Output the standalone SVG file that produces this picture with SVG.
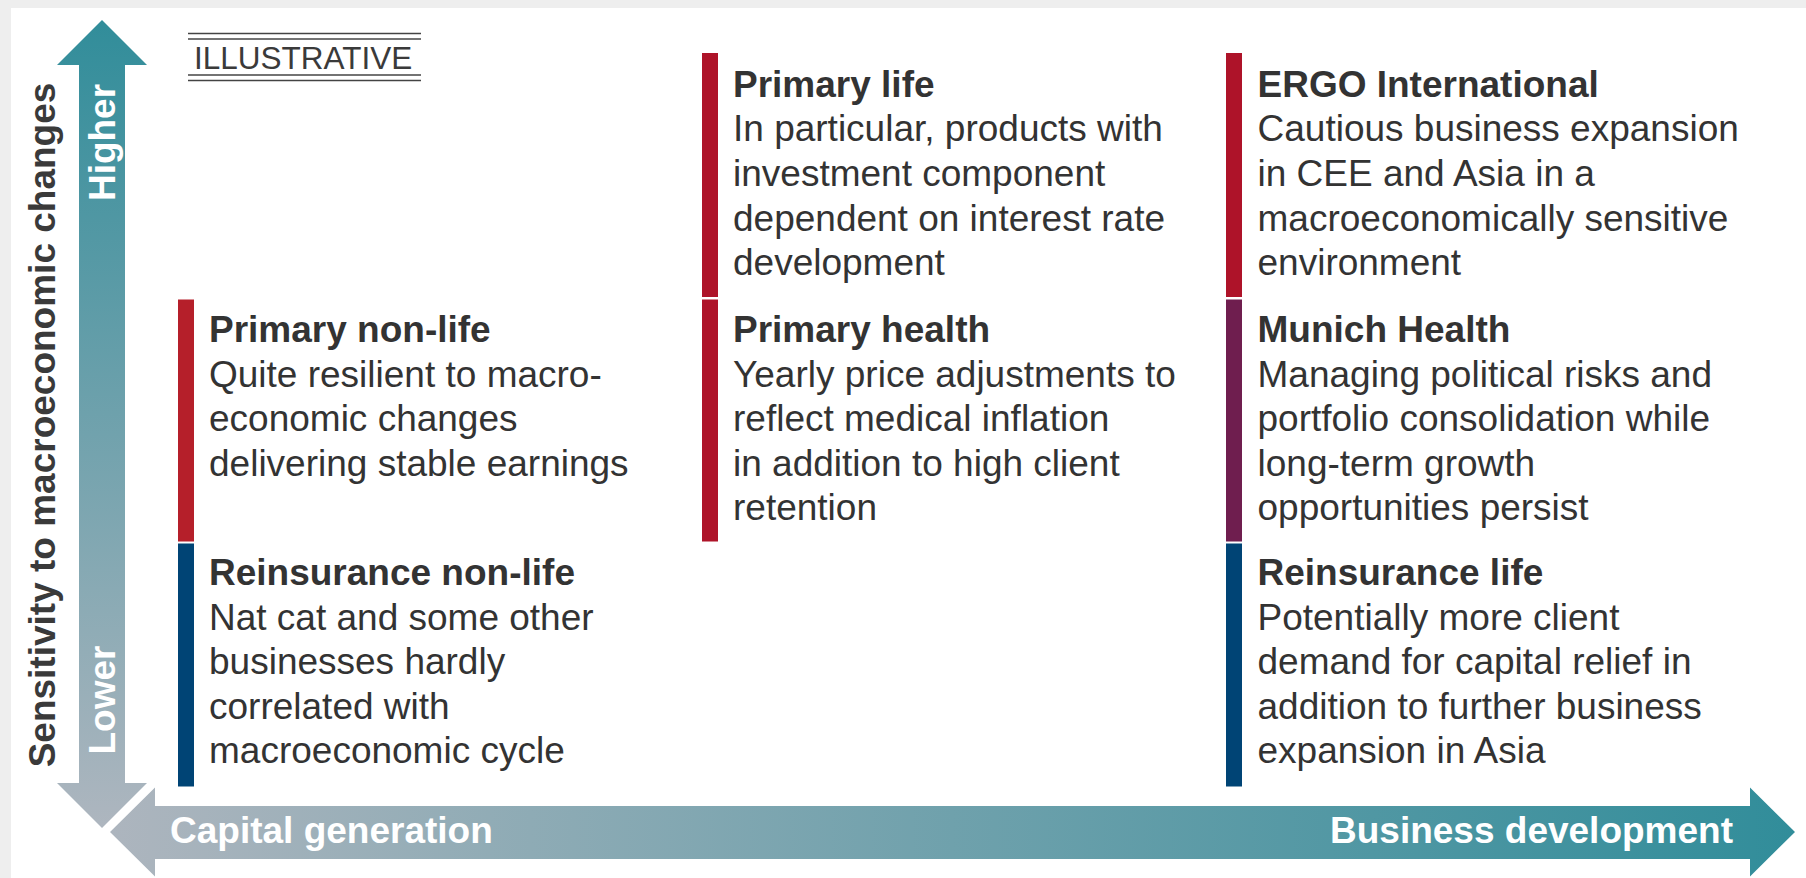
<svg xmlns="http://www.w3.org/2000/svg" width="1806" height="878" viewBox="0 0 1806 878">
  <defs>
    <linearGradient id="gradV" gradientUnits="userSpaceOnUse" x1="0" y1="20" x2="0" y2="828">
      <stop offset="0" stop-color="#318d9a"/>
      <stop offset="1" stop-color="#aeb6bf"/>
    </linearGradient>
    <linearGradient id="gradH" gradientUnits="userSpaceOnUse" x1="110" y1="0" x2="1795" y2="0">
      <stop offset="0" stop-color="#adb5be"/>
      <stop offset="1" stop-color="#318d9a"/>
    </linearGradient>
    <style>
      .txt { font-family: "Liberation Sans", Arial, sans-serif; font-size: 37px; fill: #333333; }
      .hd { font-weight: bold; }
      .axis-lbl { font-family: "Liberation Sans", Arial, sans-serif; font-size: 37px; font-weight: bold; fill: #ffffff; }
      .axis-title { font-family: "Liberation Sans", Arial, sans-serif; font-size: 37px; font-weight: bold; fill: #3a3a3a; }
      .red { fill: #ae1329; }
      .red2 { fill: #b51f2a; }
      .purple { fill: #6f1e4f; }
      .blue { fill: #004475; }
      .rule { stroke: #444444; stroke-width: 1.7; }
    </style>
  </defs>

  <!-- page -->
  <rect x="0" y="0" width="1806" height="878" fill="#eeeeee"/>
  <rect x="11" y="8" width="1795" height="870" fill="#ffffff"/>

  <!-- axes -->
  <g id="axes">
    <!-- vertical: higher sensitivity (up) / lower (down) -->
    <polygon fill="url(#gradV)" points="102,20 147,65 125,65 125,783 147,783 102,828 57,783 79,783 79,65 57,65"/>
    <!-- horizontal: capital generation (left) / business development (right) -->
    <polygon fill="url(#gradH)" points="110,832 155,787.5 155,806 1750,806 1750,787.5 1795,832 1750,876.5 1750,859 155,859 155,876.5"/>
    <text class="axis-lbl" text-anchor="middle" transform="translate(115,142.5) rotate(-90)">Higher</text>
    <text class="axis-lbl" text-anchor="middle" transform="translate(115,700) rotate(-90)">Lower</text>
    <text class="axis-lbl" x="170" y="843">Capital generation</text>
    <text class="axis-lbl" x="1733" y="843" text-anchor="end">Business development</text>
    <text class="axis-title" text-anchor="middle" transform="translate(55,425) rotate(-90)">Sensitivity to macroeconomic changes</text>
  </g>

  <!-- stamp -->
  <g id="illustrative">
    <line class="rule" x1="188" y1="33.5" x2="421" y2="33.5"/>
    <line class="rule" x1="188" y1="39" x2="421" y2="39"/>
    <text x="194" y="69" font-family="Liberation Sans, Arial, sans-serif" font-size="31.5" fill="#3a3a3a">ILLUSTRATIVE</text>
    <line class="rule" x1="188" y1="75" x2="421" y2="75"/>
    <line class="rule" x1="188" y1="80.5" x2="421" y2="80.5"/>
  </g>

  <!-- column 1 -->
  <g id="primary-non-life">
    <rect class="red2" x="178" y="299.5" width="16" height="242"/>
    <text class="txt">
      <tspan class="hd" x="209" y="342">Primary non-life</tspan>
      <tspan x="209" y="386.5">Quite resilient to macro-</tspan>
      <tspan x="209" y="431">economic changes</tspan>
      <tspan x="209" y="475.5">delivering stable earnings</tspan>
    </text>
  </g>
  <g id="reinsurance-non-life">
    <rect class="blue" x="178" y="543.5" width="16" height="243"/>
    <text class="txt">
      <tspan class="hd" x="209" y="585">Reinsurance non-life</tspan>
      <tspan x="209" y="629.5">Nat cat and some other</tspan>
      <tspan x="209" y="674">businesses hardly</tspan>
      <tspan x="209" y="718.5">correlated with</tspan>
      <tspan x="209" y="763">macroeconomic cycle</tspan>
    </text>
  </g>

  <!-- column 2 -->
  <g id="primary-life">
    <rect class="red" x="702" y="53" width="16" height="244"/>
    <text class="txt">
      <tspan class="hd" x="733" y="97">Primary life</tspan>
      <tspan x="733" y="141">In particular, products with</tspan>
      <tspan x="733" y="186">investment component</tspan>
      <tspan x="733" y="230.5">dependent on interest rate</tspan>
      <tspan x="733" y="275">development</tspan>
    </text>
  </g>
  <g id="primary-health">
    <rect class="red" x="702" y="299.5" width="16" height="242"/>
    <text class="txt">
      <tspan class="hd" x="733" y="342">Primary health</tspan>
      <tspan x="733" y="386.5">Yearly price adjustments to</tspan>
      <tspan x="733" y="431">reflect medical inflation</tspan>
      <tspan x="733" y="475.5">in addition to high client</tspan>
      <tspan x="733" y="520">retention</tspan>
    </text>
  </g>

  <!-- column 3 -->
  <g id="ergo-international">
    <rect class="red" x="1226" y="53" width="16" height="244"/>
    <text class="txt">
      <tspan class="hd" x="1257.5" y="97">ERGO International</tspan>
      <tspan x="1257.5" y="141">Cautious business expansion</tspan>
      <tspan x="1257.5" y="186">in CEE and Asia in a</tspan>
      <tspan x="1257.5" y="230.5">macroeconomically sensitive</tspan>
      <tspan x="1257.5" y="275">environment</tspan>
    </text>
  </g>
  <g id="munich-health">
    <rect class="purple" x="1226" y="299.5" width="16" height="242"/>
    <text class="txt">
      <tspan class="hd" x="1257.5" y="342">Munich Health</tspan>
      <tspan x="1257.5" y="386.5">Managing political risks and</tspan>
      <tspan x="1257.5" y="431">portfolio consolidation while</tspan>
      <tspan x="1257.5" y="475.5">long-term growth</tspan>
      <tspan x="1257.5" y="520">opportunities persist</tspan>
    </text>
  </g>
  <g id="reinsurance-life">
    <rect class="blue" x="1226" y="543.5" width="16" height="243"/>
    <text class="txt">
      <tspan class="hd" x="1257.5" y="585">Reinsurance life</tspan>
      <tspan x="1257.5" y="629.5">Potentially more client</tspan>
      <tspan x="1257.5" y="674">demand for capital relief in</tspan>
      <tspan x="1257.5" y="718.5">addition to further business</tspan>
      <tspan x="1257.5" y="763">expansion in Asia</tspan>
    </text>
  </g>
</svg>
